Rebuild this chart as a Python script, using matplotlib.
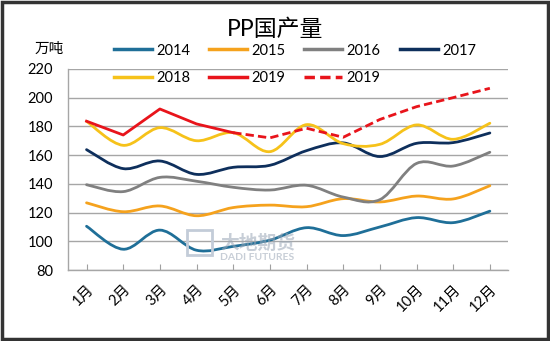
import matplotlib
matplotlib.use("Agg")
import matplotlib.pyplot as plt
from matplotlib.path import Path
from matplotlib.patches import PathPatch, Rectangle
from matplotlib.lines import Line2D

plt.rcParams["font.family"] = ["Lato", "Noto Sans CJK SC", "DejaVu Sans"]

MONTHS = ["1月", "2月", "3月", "4月", "5月", "6月", "7月", "8月", "9月", "10月", "11月", "12月"]
Y2014 = [110.5, 94.5, 107.8, 93.8, 96.5, 100.8, 109.5, 104.0, 110.0, 116.5, 113.0, 121.0]
Y2015 = [126.8, 120.6, 124.6, 117.8, 123.5, 125.2, 124.1, 129.7, 127.4, 131.5, 129.5, 138.7]
Y2016 = [139.4, 134.6, 144.5, 141.8, 137.6, 135.7, 139.0, 130.8, 129.0, 154.2, 152.4, 162.0]
Y2017 = [163.8, 150.6, 155.9, 146.6, 151.5, 152.9, 163.1, 168.5, 159.0, 168.2, 168.7, 175.4]
Y2018 = [183.5, 166.8, 179.1, 170.0, 175.6, 162.4, 181.2, 168.0, 167.5, 181.0, 171.0, 182.2]
Y2019 = [183.6, 174.0, 192.1, 181.7, 175.6]
Y2019_EST = [175.6, 172.0, 178.7, 172.4, 184.8, 193.7, 200.0, 206.5]

COLORS = {
    "2014": "#1f6f98",
    "2015": "#f5a21d",
    "2016": "#808080",
    "2017": "#0e2f5c",
    "2018": "#f6c21a",
    "2019": "#e8141b",
}


def smooth_path(xs, ys):
    # Excel-style smoothed line: cubic Bezier segments through the points
    verts = [(xs[0], ys[0])]
    codes = [Path.MOVETO]
    n = len(xs)
    for i in range(n - 1):
        x0, y0 = (xs[i - 1], ys[i - 1]) if i > 0 else (xs[i], ys[i])
        x1, y1 = xs[i], ys[i]
        x2, y2 = xs[i + 1], ys[i + 1]
        x3, y3 = (xs[i + 2], ys[i + 2]) if i + 2 < n else (x2, y2)
        c1 = (x1 + (x2 - x0) / 6, y1 + (y2 - y0) / 6)
        c2 = (x2 - (x3 - x1) / 6, y2 - (y3 - y1) / 6)
        verts += [c1, c2, (x2, y2)]
        codes += [Path.CURVE4] * 3
    return Path(verts, codes)


fig = plt.figure(figsize=(5.5, 3.41), dpi=100)
ax = fig.add_axes([0.124, 0.208, 0.8, 0.59])

xs = list(range(1, 13))
lw = 2.0
for year, vals in [("2014", Y2014), ("2015", Y2015), ("2016", Y2016), ("2017", Y2017), ("2018", Y2018)]:
    ax.add_patch(PathPatch(smooth_path(xs, vals), facecolor="none", edgecolor=COLORS[year],
                           lw=lw, capstyle="round", zorder=3))

ax.plot(xs[:len(Y2019)], Y2019, color=COLORS["2019"], lw=lw, zorder=4)
ax.plot(xs[4:4 + len(Y2019_EST)], Y2019_EST, color=COLORS["2019"], lw=lw, ls=(0, (3, 1.5)), zorder=4)

ax.set_xlim(0.5, 12.5)
ax.set_ylim(80, 220)
ax.set_yticks(range(80, 221, 20))
ax.set_xticks(xs)
ax.set_xticklabels(MONTHS, rotation=45, ha="right", rotation_mode="anchor")
ax.tick_params(axis="y", length=0, labelsize=10.5, pad=11)
ax.tick_params(axis="x", direction="in", length=4, color="#a0a0a0", labelsize=10.5, pad=9)
ax.grid(axis="y", color="#a6a6a6", lw=1.0)
ax.set_axisbelow(True)
for side in ["top", "right"]:
    ax.spines[side].set_visible(False)
for side in ["left", "bottom"]:
    ax.spines[side].set_color("#a6a6a6")
    ax.spines[side].set_linewidth(1.0)

# watermark
fig.patches.append(Rectangle((187 / 550, 1 - 255 / 341), 25 / 550, 25 / 341, transform=fig.transFigure,
                             fill=False, edgecolor="#c3ccd8", lw=2, zorder=1))
fig.text(0.40, 0.287, "大地期货", fontsize=13.5, color="#9aa6b6", alpha=0.55, weight="bold", va="center")
fig.text(0.40, 0.246, "DADI FUTURES", fontsize=7.5, color="#9aa6b6", alpha=0.55, weight="bold", va="center")

fig.text(0.5, 0.915, "PP国产量", fontsize=16.5, ha="center", va="center")
fig.text(0.09, 0.858, "万吨", fontsize=10.5, ha="center", va="center")

labels = ["2014", "2015", "2016", "2017", "2018", "2019", "2019"]
styles = [COLORS["2014"], COLORS["2015"], COLORS["2016"], COLORS["2017"],
          COLORS["2018"], COLORS["2019"], COLORS["2019"]]
handles = []
for i, c in enumerate(styles):
    ls = (0, (3, 1.5)) if i == 6 else "-"
    handles.append(Line2D([], [], color=c, lw=2.5, ls=ls))
order = [0, 4, 1, 5, 2, 6, 3]
fig.legend([handles[i] for i in order], [labels[i] for i in order], ncol=4, loc="center",
           bbox_to_anchor=(0.536, 0.812), frameon=False, fontsize=10.5,
           handlelength=2.6, handletextpad=0.3, columnspacing=1.3, labelspacing=0.9)

fig.patches.append(Rectangle((0.003, 0.005), 0.994, 0.99, transform=fig.transFigure,
                             fill=False, edgecolor="#333333", lw=2.5))

fig.savefig("out.png", dpi=100)
